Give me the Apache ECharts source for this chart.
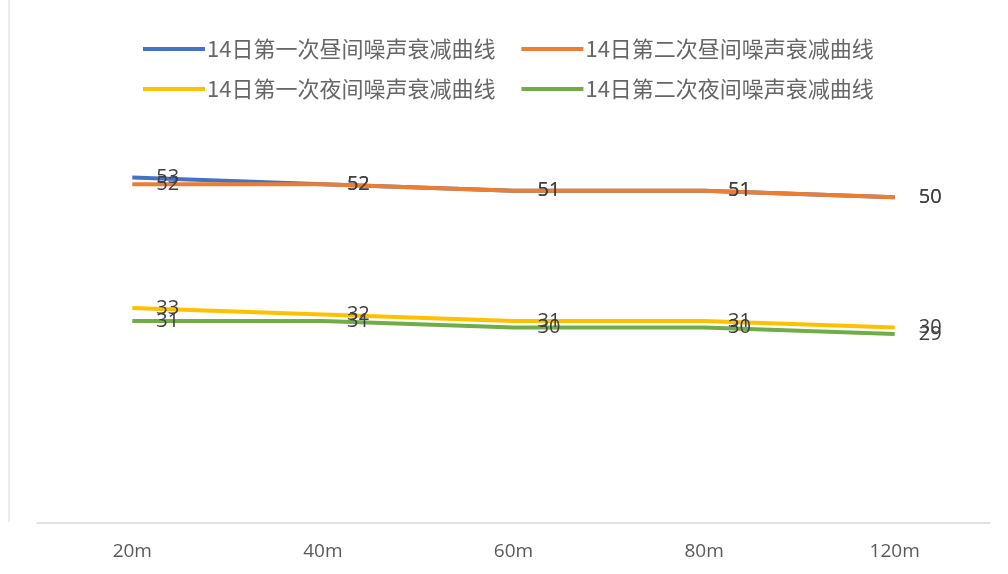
<!DOCTYPE html>
<html>
<head>
<meta charset="utf-8">
<script src="https://cdn.jsdelivr.net/npm/echarts@6/dist/echarts.min.js"></script>
<style>
html, body { margin: 0; padding: 0; background: #fff; }
#main { width: 1008px; height: 574px; }
</style>
</head>
<body>
<div id="main"></div>
<script>
    var categories = ['20m', '40m', '60m', '80m', '120m'];
    var seriesNames = ['14日第一次昼间噪声衰减曲线', '14日第二次昼间噪声衰减曲线', '14日第一次夜间噪声衰减曲线', '14日第二次夜间噪声衰减曲线'];
    var day1 = [53, 52, 51, 51, 50];
    var day2 = [52, 52, 51, 51, 50];
    var night1 = [33, 32, 31, 31, 30];
    var night2 = [31, 31, 30, 30, 29];
    var colors = ['#4472C4', '#ED7D31', '#FFC000', '#70AD47'];

    var myChart = echarts.init(document.getElementById('main'));

    function makeLine(name, data, color) {
        return {
            name: name,
            type: 'line',
            data: data,
            showSymbol: true,
            symbol: 'circle',
            symbolSize: 0,
            lineStyle: { width: 4, color: color },
            itemStyle: { color: color },
            label: {
                show: true,
                position: 'right',
                distance: 24,
                color: '#404040',
                fontSize: 20,
                fontFamily: 'Open Sans'
            },
            animation: false
        };
    }

    var legendCommon = {
        left: 138,
        itemWidth: 62,
        itemHeight: 4,
        itemGap: 26,
        icon: 'rect',
        textStyle: { color: '#666666', fontSize: 22, fontFamily: 'Noto Sans CJK SC', padding: [0, 0, 0, -3] }
    };

    myChart.setOption({
        backgroundColor: '#fff',
        color: colors,
        graphic: [{
            type: 'line',
            shape: { x1: 9, y1: 0, x2: 9, y2: 522 },
            style: { stroke: '#ececec', lineWidth: 2 }
        }],
        legend: [
            Object.assign({ top: 33, data: [seriesNames[0], seriesNames[1]] }, legendCommon),
            Object.assign({ top: 73, data: [seriesNames[2], seriesNames[3]] }, legendCommon)
        ],
        grid: {
            left: 37,
            right: 18,
            top: 132,
            bottom: 51
        },
        xAxis: {
            type: 'category',
            data: categories,
            boundaryGap: true,
            axisLine: { lineStyle: { color: '#d9d9d9', width: 1.5 } },
            axisTick: { show: false },
            axisLabel: { color: '#595959', fontSize: 19, margin: 19, fontFamily: 'Open Sans' }
        },
        yAxis: {
            type: 'value',
            min: 0,
            max: 60,
            show: false,
            splitLine: { show: false }
        },
        series: [
            makeLine(seriesNames[0], day1, colors[0]),
            makeLine(seriesNames[1], day2, colors[1]),
            makeLine(seriesNames[2], night1, colors[2]),
            makeLine(seriesNames[3], night2, colors[3])
        ]
    });
</script>
</body>
</html>
